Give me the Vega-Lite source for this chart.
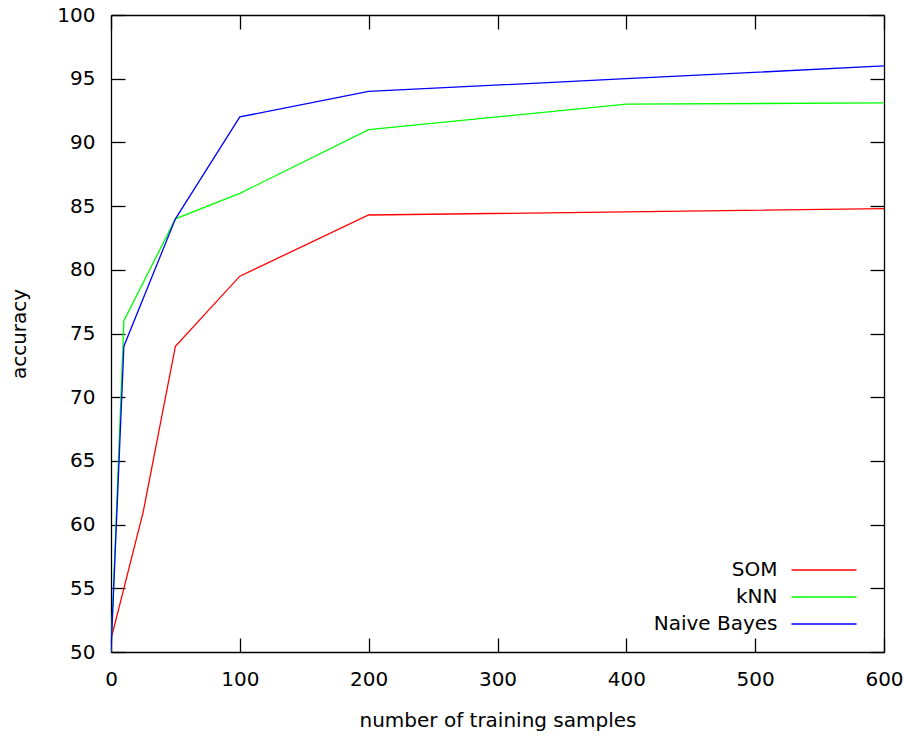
{
  "$schema": "https://vega.github.io/schema/vega-lite/v6.json",
  "width": 773,
  "height": 637,
  "autosize": {"type": "none"},
  "padding": {"left": 111, "top": 15, "right": 20, "bottom": 84},
  "background": "white",
  "config": {
    "font": "DejaVu Sans",
    "view": {"stroke": null},
    "axis": {
      "labelFont": "DejaVu Sans",
      "titleFont": "DejaVu Sans",
      "labelFontSize": 20,
      "titleFontSize": 20,
      "titleFontWeight": "normal",
      "labelColor": "#000000",
      "titleColor": "#000000",
      "domainColor": "#000000",
      "tickColor": "#000000",
      "domainWidth": 1.3,
      "tickWidth": 1.3,
      "tickSize": -14,
      "labelFlush": false,
      "labelOverlap": false,
      "grid": false
    },
    "legend": {
      "labelFont": "DejaVu Sans",
      "labelFontSize": 20,
      "labelColor": "#000000"
    }
  },
  "data": {
    "values": [
      {"n": 0, "acc": 51, "method": "SOM"},
      {"n": 10, "acc": 55, "method": "SOM"},
      {"n": 25, "acc": 61, "method": "SOM"},
      {"n": 50, "acc": 74, "method": "SOM"},
      {"n": 100, "acc": 79.5, "method": "SOM"},
      {"n": 200, "acc": 84.3, "method": "SOM"},
      {"n": 600, "acc": 84.8, "method": "SOM"},
      {"n": 0, "acc": 50, "method": "kNN"},
      {"n": 10, "acc": 76, "method": "kNN"},
      {"n": 50, "acc": 84, "method": "kNN"},
      {"n": 100, "acc": 86, "method": "kNN"},
      {"n": 200, "acc": 91, "method": "kNN"},
      {"n": 400, "acc": 93, "method": "kNN"},
      {"n": 600, "acc": 93.1, "method": "kNN"},
      {"n": 0, "acc": 50, "method": "Naive Bayes"},
      {"n": 10, "acc": 74, "method": "Naive Bayes"},
      {"n": 50, "acc": 84, "method": "Naive Bayes"},
      {"n": 100, "acc": 92, "method": "Naive Bayes"},
      {"n": 200, "acc": 94, "method": "Naive Bayes"},
      {"n": 400, "acc": 95, "method": "Naive Bayes"},
      {"n": 600, "acc": 96, "method": "Naive Bayes"}
    ]
  },
  "layer": [
    {
      "mark": {"type": "line", "strokeWidth": 1.3, "clip": true},
      "encoding": {
        "x": {
          "field": "n", "type": "quantitative",
          "scale": {"domain": [0, 600], "nice": false, "zero": false},
          "axis": {"values": [0, 100, 200, 300, 400, 500, 600], "format": "d", "title": "number of training samples", "titlePadding": 21, "labelPadding": 31}
        },
        "y": {
          "field": "acc", "type": "quantitative",
          "scale": {"domain": [50, 100], "nice": false, "zero": false},
          "axis": {"values": [50, 55, 60, 65, 70, 75, 80, 85, 90, 95, 100], "title": "accuracy", "titlePadding": 27, "labelPadding": 30}
        },
        "color": {
          "field": "method", "type": "nominal",
          "scale": {"domain": ["SOM", "kNN", "Naive Bayes"], "range": ["#ff0000", "#00ff00", "#0000ff"]},
          "legend": {
            "title": null,
            "orient": "none",
            "legendX": 702,
            "legendY": 544,
            "symbolType": "M-3.25,0H3.25",
            "symbolSize": 400,
            "symbolStrokeWidth": 1.3,
            "labelAlign": "right",
            "labelOffset": -57.5,
            "rowPadding": 6
          }
        },
        "order": {"field": "n", "type": "quantitative"}
      }
    },
    {
      "mark": {"type": "line", "opacity": 0},
      "encoding": {
        "x": {
          "field": "n", "type": "quantitative",
          "axis": {"orient": "top", "values": [0, 100, 200, 300, 400, 500, 600], "labels": false, "title": null}
        },
        "y": {
          "field": "acc", "type": "quantitative",
          "axis": {"orient": "right", "values": [50, 55, 60, 65, 70, 75, 80, 85, 90, 95, 100], "labels": false, "title": null}
        },
        "detail": {"field": "method"}
      }
    }
  ],
  "resolve": {"axis": {"x": "independent", "y": "independent"}}
}
